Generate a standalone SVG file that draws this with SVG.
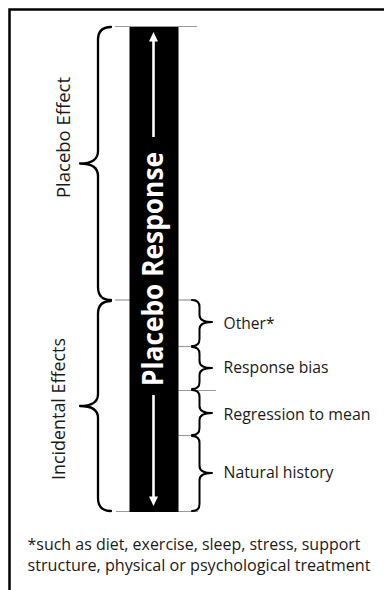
<svg xmlns="http://www.w3.org/2000/svg" width="384" height="590" viewBox="0 0 384 590">
<style>
.lbl{font-family:"Open Sans","Noto Sans","Liberation Sans",sans-serif;fill:#1a1a1a;}
.brace{fill:none;stroke:#000;stroke-width:2.3;stroke-linecap:round;stroke-linejoin:round;}
.rbrace{fill:none;stroke:#000;stroke-width:2;stroke-linecap:round;stroke-linejoin:round;}
.div{stroke:#9a9a9a;stroke-width:1.2;fill:none;}
.warrow{stroke:#fff;stroke-width:2.6;fill:none;}
</style>
<rect x="0" y="0" width="384" height="590" fill="#fff"/>
<path d="M9.5 590 V9.5 H384" fill="none" stroke="#000" stroke-width="2.5"/>

<g id="connectors">
  <line class="div" x1="115" y1="26.5" x2="197" y2="26.5"/>
  <line class="div" x1="115" y1="300" x2="130" y2="300"/>
  <line class="div" x1="178" y1="300" x2="196" y2="300"/>
  <line class="div" x1="178" y1="346.5" x2="197" y2="346.5"/>
  <line class="div" x1="178" y1="390.5" x2="216" y2="390.5"/>
  <line class="div" x1="178" y1="435.5" x2="197" y2="435.5"/>
  <line class="div" x1="116" y1="511.5" x2="198" y2="511.5"/>
</g>

<g id="placebo-response-bar">
  <rect x="129.5" y="27" width="49" height="485" fill="#000"/>
  <line class="warrow" x1="153.5" y1="40" x2="153.5" y2="137"/>
  <polygon points="153.5,32 149,41.5 158,41.5" fill="#fff"/>
  <line class="warrow" x1="153.5" y1="395" x2="153.5" y2="498"/>
  <polygon points="153.5,506 149,496.5 158,496.5" fill="#fff"/>
  <text transform="rotate(-90 163 269)" x="163" y="269" text-anchor="middle" font-family="'Open Sans','Noto Sans','Liberation Sans',sans-serif" font-weight="bold" font-size="28" fill="#fff" textLength="234" lengthAdjust="spacingAndGlyphs">Placebo Response</text>
</g>

<g id="placebo-effect">
  <path class="brace" d="M111 27 Q98 27 98 40 L98 151 Q98 163.5 80 163.5 Q98 163.5 98 176 L98 287 Q98 300 111 300"/>
  <text class="lbl" transform="rotate(-90 70 137.5)" x="70" y="137.5" text-anchor="middle" font-size="19" textLength="121" lengthAdjust="spacingAndGlyphs">Placebo Effect</text>
</g>

<g id="incidental-effects">
  <path class="brace" d="M111 301 Q98 301 98 314 L98 394 Q98 406 80 406 Q98 406 98 418 L98 498 Q98 511 111 511"/>
  <text class="lbl" transform="rotate(-90 65 409)" x="65" y="409" text-anchor="middle" font-size="19" textLength="142" lengthAdjust="spacingAndGlyphs">Incidental Effects</text>
</g>

<g id="other">
  <path class="rbrace" d="M192 300 Q199.5 300 199.5 307 L199.5 315 Q199.5 322 212 322 Q199.5 322 199.5 329 L199.5 339 Q199.5 346 192 346"/>
  <text class="lbl" x="223.5" y="328.5" font-size="16.5" textLength="51" lengthAdjust="spacingAndGlyphs">Other*</text>
</g>

<g id="response-bias">
  <path class="rbrace" d="M192 347 Q199.5 347 199.5 354 L199.5 361 Q199.5 368 212 368 Q199.5 368 199.5 375 L199.5 382 Q199.5 389 192 389"/>
  <text class="lbl" x="223.5" y="373" font-size="16.5" textLength="105" lengthAdjust="spacingAndGlyphs">Response bias</text>
</g>

<g id="regression-to-mean">
  <path class="rbrace" d="M192 390 Q199.5 390 199.5 397 L199.5 406 Q199.5 413 212 413 Q199.5 413 199.5 420 L199.5 428 Q199.5 435 192 435"/>
  <text class="lbl" x="223.5" y="419.5" font-size="16.5" textLength="147" lengthAdjust="spacingAndGlyphs">Regression to mean</text>
</g>

<g id="natural-history">
  <path class="rbrace" d="M192 436 Q199.5 436 199.5 443 L199.5 466 Q199.5 473 212 473 Q199.5 473 199.5 480 L199.5 504 Q199.5 511 192 511"/>
  <text class="lbl" x="223.5" y="477.5" font-size="16.5" textLength="110" lengthAdjust="spacingAndGlyphs">Natural history</text>
</g>

<g id="footnote">
  <text class="lbl" x="27.5" y="550" font-size="16" textLength="333" lengthAdjust="spacingAndGlyphs">*such as diet, exercise, sleep, stress, support</text>
  <text class="lbl" x="27.5" y="571" font-size="16" textLength="343" lengthAdjust="spacingAndGlyphs">structure, physical or psychological treatment</text>
</g>
</svg>
